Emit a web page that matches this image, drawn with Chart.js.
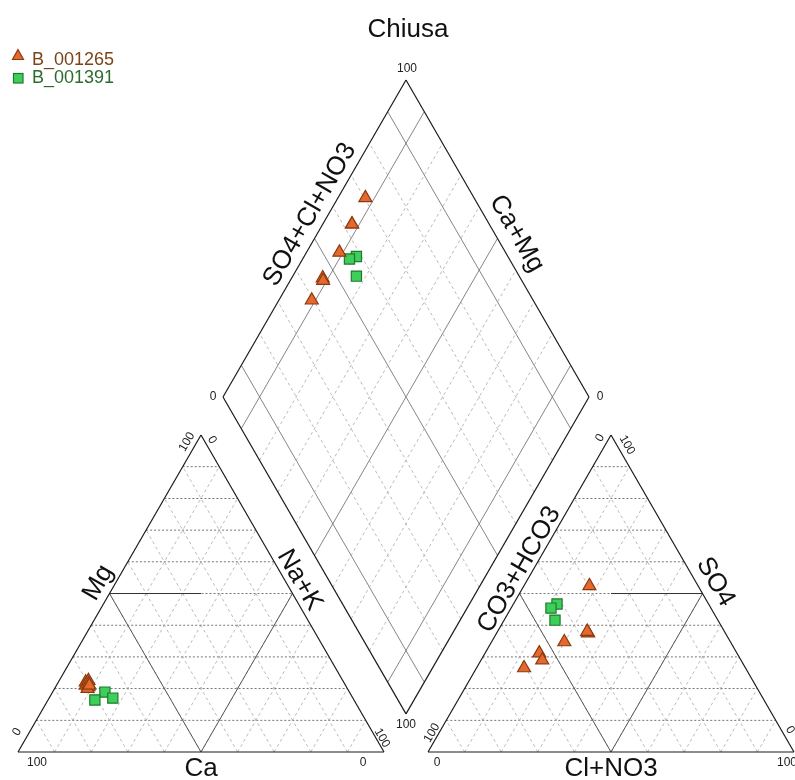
<!DOCTYPE html>
<html>
<head>
<meta charset="utf-8">
<script src="https://cdn.jsdelivr.net/npm/chart.js@4/dist/chart.umd.min.js"></script>
<style>
  html, body { margin: 0; padding: 0; background: #fff; }
  #wrap { position: relative; width: 795px; height: 780px; }
</style>
</head>
<body>
<div id="wrap"><canvas id="piper"></canvas></div>
<script>
// Piper diagram - Chiusa
// valori in % meq
const seriesNames = ['B_001265', 'B_001391'];

const orangeMg  = [22, 21, 22.5, 20.5, 21.5, 20, 21];
const orangeNaK = [7.5, 8, 8, 9, 8.5, 9, 9];
const orangeSO4 = [52.4, 37.5, 38, 34.7, 31.2, 29, 26.5];
const orangeCl  = [17.9, 25, 24.5, 19.9, 14.8, 16.7, 13];

const greenMg  = [18.9, 16.4, 17];
const greenNaK = [14.3, 12.8, 17.4];
const greenSO4 = [46.7, 45.4, 41.6];
const greenCl  = [11.9, 10.9, 13.9];

const gridSteps = [10, 20, 30, 40, 50, 60, 70, 80, 90];
const boldDiamond = [10, 50, 90];

// geometria
const SIDE = 366;
const H = SIDE * Math.sqrt(3) / 2;
const BASE_Y = 752;
const CAT_X0 = 18;
const GAP = 44;
const AN_X0 = CAT_X0 + SIDE + GAP;

const cA = [CAT_X0, BASE_Y], cB = [CAT_X0 + SIDE, BASE_Y], cC = [CAT_X0 + SIDE / 2, BASE_Y - H];
const aA = [AN_X0, BASE_Y], aB = [AN_X0 + SIDE, BASE_Y], aC = [AN_X0 + SIDE / 2, BASE_Y - H];
const dB = [CAT_X0 + SIDE + GAP / 2, BASE_Y - GAP * Math.sqrt(3) / 2];
const dL = [dB[0] - SIDE / 2, dB[1] - H];
const dR = [dB[0] + SIDE / 2, dB[1] - H];
const dT = [dB[0], dB[1] - 2 * H];

const lerp = (p, q, t) => [p[0] + (q[0] - p[0]) * t, p[1] + (q[1] - p[1]) * t];

function cationPt(mg, na) {
    return { x: CAT_X0 + SIDE * (na + mg / 2) / 100, y: BASE_Y - H * mg / 100 };
}
function anionPt(so4, cl) {
    return { x: AN_X0 + SIDE * (cl + so4 / 2) / 100, y: BASE_Y - H * so4 / 100 };
}
function diamondPt(na, so4, cl) {
    const a = (100 - na) / 100, b = (so4 + cl) / 100;
    return { x: dB[0] + SIDE / 2 * (b - a), y: dB[1] - H * (a + b) };
}

function buildPoints(mg, na, so4, cl) {
    const pts = [];
    mg.forEach((v, i) => pts.push(cationPt(v, na[i])));
    so4.forEach((v, i) => pts.push(anionPt(v, cl[i])));
    so4.forEach((v, i) => pts.push(diamondPt(na[i], v, cl[i])));
    return pts;
}

const FONT = '"Liberation Sans", Arial, sans-serif';

const piperPlugin = {
    id: 'piper',
    beforeDatasetsDraw(chart) {
        const ctx = chart.ctx;
        const sx = chart.scales.x, sy = chart.scales.y;
        const P = p => [sx.getPixelForValue(p[0]), sy.getPixelForValue(p[1])];

        function seg(p, q, color, width, dash) {
            const a = P(p), b = P(q);
            ctx.save();
            ctx.strokeStyle = color;
            ctx.lineWidth = width;
            ctx.setLineDash(dash || []);
            ctx.beginPath();
            ctx.moveTo(a[0], a[1]);
            ctx.lineTo(b[0], b[1]);
            ctx.stroke();
            ctx.restore();
        }
        function txt(s, p, size, rot, color) {
            const a = P(p);
            ctx.save();
            ctx.translate(a[0], a[1]);
            ctx.rotate(rot * Math.PI / 180);
            ctx.font = size + 'px ' + FONT;
            ctx.fillStyle = color || '#222';
            ctx.textAlign = 'center';
            ctx.textBaseline = 'middle';
            ctx.fillText(s, 0, 0);
            ctx.restore();
        }
        function alongEdge(s, p, q, t, off, rot, outward) {
            const m = lerp(p, q, t);
            txt(s, [m[0] + outward[0] * off, m[1] + outward[1] * off], 26, rot, '#111');
        }

        // triangoli
        [[cA, cB, cC], [aA, aB, aC]].forEach(([A, B, C]) => {
            gridSteps.forEach(k => {
                const f = k / 100;
                seg(lerp(A, B, f), lerp(B, C, 1 - f), '#a8a8a8', 0.8, [3, 3]);
                seg(lerp(A, B, f), lerp(A, C, f), '#a8a8a8', 0.8, [3, 3]);
                seg(lerp(A, C, f), lerp(B, C, f), '#555', 0.8, [2, 2]);
            });
        });

        // diamante
        gridSteps.forEach(k => {
            const f = k / 100;
            const bold = boldDiamond.includes(k);
            const col = bold ? '#666' : '#a8a8a8';
            const dash = bold ? [] : [3, 3];
            seg(lerp(dB, dL, f), lerp(dR, dT, f), col, 0.8, dash);
            seg(lerp(dB, dR, f), lerp(dL, dT, f), col, 0.8, dash);
        });

        // linee di classificazione
        const cMid = lerp(cA, cB, 0.5), cLm = lerp(cA, cC, 0.5), cRm = lerp(cB, cC, 0.5);
        seg(cMid, cLm, '#555', 1);
        seg(cMid, cRm, '#555', 1);
        seg(cLm, [(cLm[0] + cRm[0]) / 2, cLm[1]], '#333', 1);
        const aMid = lerp(aA, aB, 0.5), aLm = lerp(aA, aC, 0.5), aRm = lerp(aB, aC, 0.5);
        seg(aMid, aLm, '#555', 1);
        seg(aMid, aRm, '#555', 1);
        seg([(aLm[0] + aRm[0]) / 2, aRm[1]], aRm, '#333', 1);

        // bordi
        [[cA, cB], [cB, cC], [cC, cA], [aA, aB], [aB, aC], [aC, aA],
         [dB, dL], [dL, dT], [dT, dR], [dR, dB]].forEach(([p, q]) => seg(p, q, '#1a1a1a', 1.2));

        // titoli assi
        const outL = [-0.866, -0.5], outR = [0.866, -0.5];
        alongEdge('Mg', cA, cC, 0.51, 15, -60, outL);
        alongEdge('Na+K', cC, cB, 0.478, 13, 60, outR);
        txt('Ca', [cMid[0], BASE_Y + 17], 26, 0, '#111');
        alongEdge('CO3+HCO3', aA, aC, 0.556, 12, -60, outL);
        alongEdge('SO4', aC, aB, 0.49, 17, 60, outR);
        txt('Cl+NO3', [aMid[0], BASE_Y + 17], 26, 0, '#111');
        alongEdge('SO4+Cl+NO3', dL, dT, 0.55, 16, -60, outL);
        alongEdge('Ca+Mg', dT, dR, 0.515, 19, 60, outR);

        // etichette 0 / 100
        const T = 12;
        txt('100', [cA[0] + 19, BASE_Y + 11], T, 0);
        txt('0', [cB[0] - 21, BASE_Y + 11], T, 0);
        txt('0', [cA[0] - 1, BASE_Y - 20], T, -60);
        txt('100', [cC[0] - 14, cC[1] + 7], T, -60);
        txt('0', [cC[0] + 11, cC[1] + 5], T, 60);
        txt('100', [cB[0] - 2, BASE_Y - 14], T, 60);

        txt('0', [aA[0] + 9, BASE_Y + 11], T, 0);
        txt('100', [aB[0] - 7, BASE_Y + 11], T, 0);
        txt('100', [aA[0] + 4, BASE_Y - 19], T, -60);
        txt('0', [aC[0] - 11, aC[1] + 3], T, -60);
        txt('100', [aC[0] + 16, aC[1] + 10], T, 60);
        txt('0', [aB[0] - 4, BASE_Y - 22], T, 60);

        txt('100', [dT[0] + 1, dT[1] - 11], T, 0);
        txt('0', [dL[0] - 10, dL[1]], T, 0);
        txt('0', [dR[0] + 11, dR[1]], T, 0);
        txt('100', [dB[0], dB[1] + 11], T, 0);

        // titolo
        txt('Chiusa', [408, 30], 26, 0, '#111');

        // legenda
        ctx.save();
        ctx.lineWidth = 1.2;
        ctx.fillStyle = '#e5692e';
        ctx.strokeStyle = '#8b3a0f';
        ctx.beginPath();
        ctx.moveTo(18, 49.5); ctx.lineTo(23.5, 59.5); ctx.lineTo(12.5, 59.5); ctx.closePath();
        ctx.fill(); ctx.stroke();
        ctx.fillStyle = '#3dcf5a';
        ctx.strokeStyle = '#1f7a2e';
        ctx.fillRect(13.5, 73.5, 9.5, 9.5);
        ctx.strokeRect(13.5, 73.5, 9.5, 9.5);
        ctx.font = '18px ' + FONT;
        ctx.textBaseline = 'middle';
        ctx.textAlign = 'left';
        ctx.fillStyle = '#7a4419';
        ctx.fillText(seriesNames[0], 32, 60);
        ctx.fillStyle = '#2d6a2d';
        ctx.fillText(seriesNames[1], 32, 78);
        ctx.restore();
    }
};

new Chart(document.getElementById('piper'), {
    type: 'scatter',
    data: {
        datasets: [
            {
                label: seriesNames[0],
                data: buildPoints(orangeMg, orangeNaK, orangeSO4, orangeCl),
                pointStyle: 'triangle',
                pointRadius: 7.5,
                backgroundColor: '#e5692e',
                borderColor: '#8b3a0f',
                borderWidth: 1.2
            },
            {
                label: seriesNames[1],
                data: buildPoints(greenMg, greenNaK, greenSO4, greenCl),
                pointStyle: 'rect',
                pointRadius: 7.2,
                backgroundColor: '#3dcf5a',
                borderColor: '#1f7a2e',
                borderWidth: 1.2
            }
        ]
    },
    options: {
        responsive: true,
        maintainAspectRatio: false,
        animation: false,
        layout: { padding: 0, autoPadding: false },
        plugins: {
            legend: { display: false },
            tooltip: { enabled: false },
            title: { display: false }
        },
        scales: {
            x: { type: 'linear', min: 0, max: 795, display: false },
            y: { type: 'linear', min: 0, max: 780, reverse: true, display: false }
        }
    },
    plugins: [piperPlugin]
});
</script>
</body>
</html>
